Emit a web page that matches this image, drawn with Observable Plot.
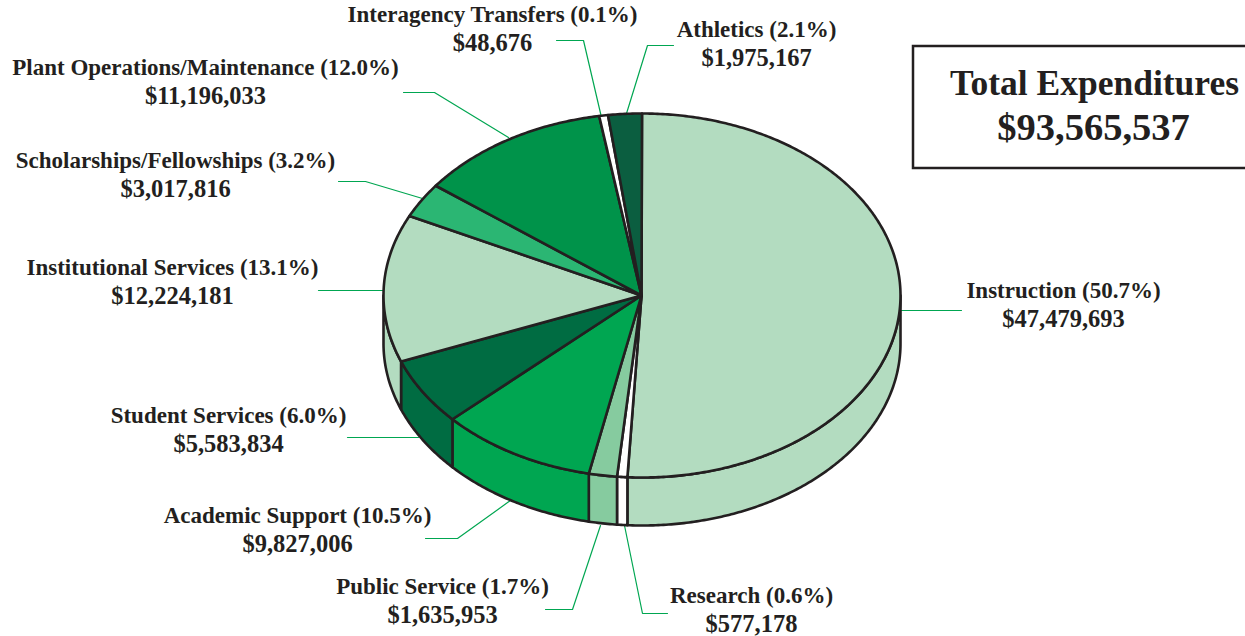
<!DOCTYPE html>
<html><head><meta charset="utf-8">
<style>html,body{margin:0;padding:0;background:#fff;overflow:hidden}svg{display:block}</style>
<script src="https://cdn.jsdelivr.net/npm/d3@7"></script>
<script src="https://cdn.jsdelivr.net/npm/@observablehq/plot@0.6"></script>
</head><body><div id="chart"></div>
<script>
const categories = ["Instruction","Research","Public Service","Academic Support","Student Services","Institutional Services","Scholarships/Fellowships","Plant Operations/Maintenance","Interagency Transfers","Athletics"];
const dollars = [47479693,577178,1635953,9827006,5583834,12224181,3017816,11196033,48676,1975167];
const percents = ["50.7","0.6","1.7","10.5","6.0","13.1","3.2","12.0","0.1","2.1"];
// share of the pie each slice occupies as drawn in the picture (the original widens the thin slivers)
const drawnShares = [50.9,0.64,1.76,9.8,6.0,13.1,3.1,12.05,0.55,2.1];
const colors = ["#b3dcc0","#ffffff","#86cb9f","#00a651","#006c42","#b3dcc0","#2bb673","#00934a","#ffffff","#0b5e40"];
const totalLabel = "Total Expenditures";
const totalValue = "$93,565,537";

// layout of the page (not data)
const labelX = [1063,751,442,297,228,172,175,205,492,756];
const labelY = [291,596,587,516,416,268,161,68,15,30];
const leaders = [
  [[901,310],[961,310]],
  [[624,525],[642,613],[667,613]],
  [[600,525],[572,609],[545,609]],
  [[510,500],[457,538],[425,538]],
  [[418,437],[347,437]],
  [[383,290],[318,290]],
  [[422,198],[365,181],[338,181]],
  [[508,137],[434,92],[403,92]],
  [[601,117],[583,40],[556,40]],
  [[626,113],[647,45],[673,45]]
];
const cx = 641.5, cy = 295, rx = 258.5, ry = 182, depth = 48;

const arcs = d3.pie().sort(null)(drawnShares);
const pt = (t, dy = 0) => [cx + rx * Math.sin(t), cy - ry * Math.cos(t) + dy];
function arcPts(a, b, dy = 0) {
  const n = Math.max(2, Math.ceil((b - a) / 0.01));
  return d3.range(n + 1).map(i => pt(a + (b - a) * i / n, dy));
}
const tops = [], walls = [];
arcs.forEach((s, i) => {
  const a = s.startAngle, b = s.endAngle;
  const poly = [[cx - 0.5, cy], ...arcPts(a, b), [cx - 0.5, cy]];
  poly.forEach(p => tops.push({id: i, x: p[0], y: p[1], c: colors[i]}));
  // visible part of the outer wall: angle between PI/2 and 3PI/2
  const wa = Math.max(a, Math.PI / 2), wb = Math.min(b, 3 * Math.PI / 2);
  if (wb > wa) {
    const up = arcPts(wa, wb), dn = arcPts(wa, wb, depth).reverse();
    [...up, ...dn, up[0]].forEach(p => walls.push({id: i, x: p[0], y: p[1], c: colors[i]}));
  }
});
const leaderRows = leaders.flatMap((l, i) => l.map(p => ({id: i, x: p[0], y: p[1]})));
const line1 = categories.map((c, i) => ({x: labelX[i], y: labelY[i] - 0.5, t: `${c} (${percents[i]}%)`}));
const line2 = categories.map((c, i) => ({x: labelX[i], y: labelY[i] + 28, t: d3.format("$,")(dollars[i])}));
const font = {fontFamily: "Liberation Serif", fontWeight: "bold", fill: "#231f20", textAnchor: "middle", lineAnchor: "middle"};
const ink = "#231f20";

const chart = Plot.plot({
  width: 1245, height: 636, margin: 0,
  x: {domain: [0, 1245], range: [0, 1245], axis: null},
  y: {domain: [0, 636], range: [0, 636], axis: null},
  style: {background: "#fff"},
  marks: [
    Plot.line(leaderRows, {x: "x", y: "y", z: "id", stroke: "#00a651", strokeWidth: 1.2, curve: "linear"}),
    Plot.line(walls, {x: "x", y: "y", z: "id", fill: "c", stroke: ink, strokeWidth: 2.6, curve: "linear", strokeLinejoin: "round"}),
    Plot.line(tops, {x: "x", y: "y", z: "id", fill: "c", stroke: ink, strokeWidth: 2.6, curve: "linear", strokeLinejoin: "round"}),
    Plot.text(line1, {x: "x", y: "y", text: "t", fontSize: 23, ...font}),
    Plot.text(line2, {x: "x", y: "y", text: "t", fontSize: 24.5, ...font}),
    Plot.rect([{x1: 913, x2: 1270, y1: 46, y2: 168}], {x1: "x1", x2: "x2", y1: "y1", y2: "y2", fill: "#fff", stroke: ink, strokeWidth: 2.5}),
    Plot.text([{x: 1094, y: 83.5, t: totalLabel}], {x: "x", y: "y", text: "t", fontSize: 35.5, ...font}),
    Plot.text([{x: 1093, y: 127, t: totalValue}], {x: "x", y: "y", text: "t", fontSize: 38.5, ...font})
  ]
});
document.getElementById("chart").append(chart);
</script></body></html>
